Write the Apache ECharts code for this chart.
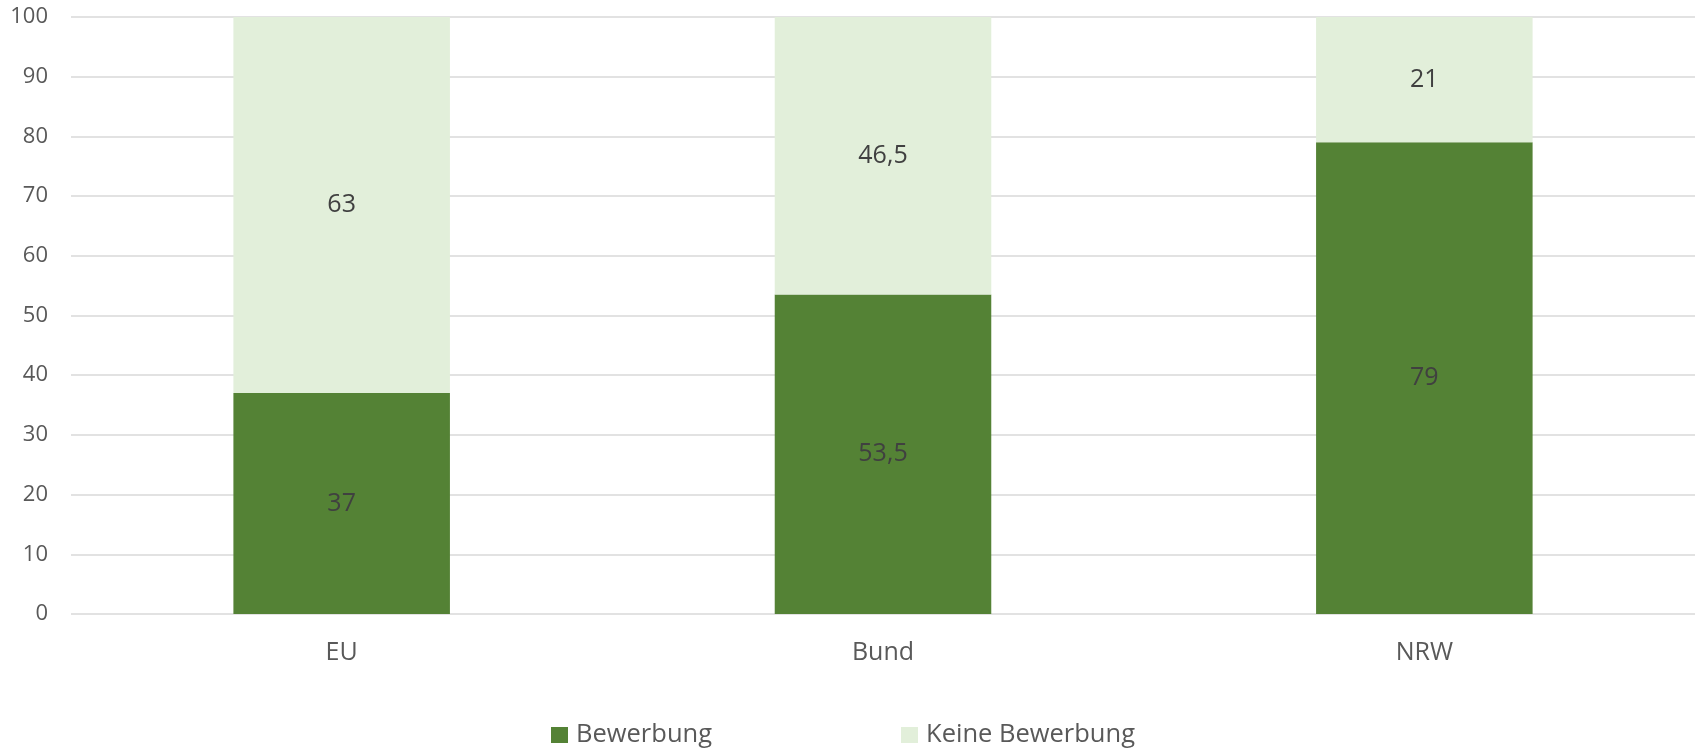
<!DOCTYPE html>
<html>
<head>
<meta charset="utf-8">
<script src="https://cdn.jsdelivr.net/npm/echarts@6.0.0/dist/echarts.min.js"></script>
<style>
  html, body { margin: 0; padding: 0; background: #fff; }
  #chart { width: 1698px; height: 749px; }
</style>
</head>
<body>
<div id="chart"></div>
<script>
// data
const categories = ['EU', 'Bund', 'NRW'];
const bewerbung = [37, 53.5, 79];
const keineBewerbung = [63, 46.5, 21];

const fontFamily = '"Open Sans", "Noto Sans", sans-serif';

const chart = echarts.init(document.getElementById('chart'));

// decimal comma like the original
const fmt = p => String(p.value).replace('.', ',');

const option = {
  animation: false,
  textStyle: { fontFamily: fontFamily },
  grid: { left: 71, right: 3, top: 17, bottom: 135, containLabel: false },
  legend: {
    bottom: -4,
    left: 546,
    itemWidth: 17,
    itemHeight: 16,
    itemGap: 189,
    icon: 'rect',
    textStyle: { fontSize: 25.5, color: '#595959', fontFamily: fontFamily, padding: [0, 0, 0, 3] },
    data: ['Bewerbung', 'Keine Bewerbung']
  },
  xAxis: {
    type: 'category',
    data: categories,
    axisLine: { show: false },
    axisTick: { show: false },
    axisLabel: { fontSize: 25, color: '#595959', margin: 26 }
  },
  yAxis: {
    type: 'value',
    min: 0,
    max: 100,
    interval: 10,
    axisLine: { show: false },
    axisTick: { show: false },
    axisLabel: { fontSize: 22, color: '#595959', margin: 23 },
    splitLine: { lineStyle: { color: '#d9d9d9', width: 1.5 } }
  },
  series: [
    {
      name: 'Bewerbung',
      type: 'bar',
      stack: 'total',
      barWidth: '40%',
      data: bewerbung,
      itemStyle: { color: '#548235' },
      label: { show: true, position: 'inside', formatter: fmt, fontSize: 25, color: '#404040' }
    },
    {
      name: 'Keine Bewerbung',
      type: 'bar',
      stack: 'total',
      barWidth: '40%',
      data: keineBewerbung,
      itemStyle: { color: '#e2efda' },
      label: { show: true, position: 'inside', formatter: fmt, fontSize: 25, color: '#404040' }
    }
  ]
};

chart.setOption(option);
</script>
</body>
</html>
